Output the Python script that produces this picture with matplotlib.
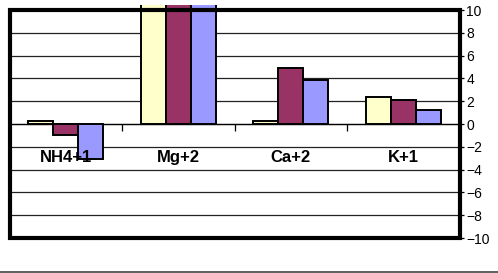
import numpy as np
import matplotlib
matplotlib.use("Agg")
from matplotlib import pyplot
from matplotlib.lines import Line2D
from matplotlib.patches import Rectangle

# ions on the category axis, three series per ion
categories = ["NH4+1", "Mg+2", "Ca+2", "K+1"]
series_a = [0.3, 11.0, 0.3, 2.4]
series_b = [-1.0, 11.0, 4.9, 2.1]
series_c = [-3.1, 11.0, 3.9, 1.2]
yticks = [-10, -8, -6, -4, -2, 0, 2, 4, 6, 8, 10]

colors = ["#FFFFCC", "#993366", "#9999FF"]

pyplot.rcParams["font.family"] = ["Liberation Sans", "DejaVu Sans"]

fig = pyplot.figure(figsize=(4.98, 2.73), dpi=100)
ax = fig.add_axes([9.5 / 498, 35 / 273, 450 / 498, 228 / 273])

# bars may run a little past the top of the frame, then get cut
clip = Rectangle((0, -0.05), 1, 1.072, transform=ax.transAxes,
                 fill=False, edgecolor="none")
ax.add_patch(clip)

x = np.arange(len(categories))
width = 2.0 / 9
for i, vals in enumerate([series_a, series_b, series_c]):
    bars = ax.bar(x + (i - 1) * width, vals, width, color=colors[i],
                  edgecolor="black", linewidth=1.4, zorder=3)
    for b in bars:
        b.set_clip_path(clip)

ax.set_xlim(-0.5, 3.5)
ax.set_ylim(-10, 10)

# gridlines
for y in yticks:
    ax.axhline(y, color="#222222", linewidth=0.9, zorder=1)

# category axis through zero
for s in ["left", "top", "right"]:
    ax.spines[s].set_visible(False)
ax.spines["bottom"].set_position(("data", 0))
ax.spines["bottom"].set_linewidth(0.9)
ax.spines["bottom"].set_zorder(1)
ax.set_xticks(x)
ax.set_xticklabels(categories, fontsize=12, fontweight="bold")
ax.set_xticks([0.5, 1.5, 2.5], minor=True)
ax.tick_params(axis="x", which="major", length=0, pad=19)
ax.tick_params(axis="x", which="minor", length=5, width=0.9, direction="out")
ax.xaxis.set_zorder(5)

ax.yaxis.tick_right()
ax.set_yticks(yticks)
ax.tick_params(axis="y", labelsize=10, length=3, width=0.9, pad=2)

# thick frame
frame = Rectangle((0, 0), 1, 1, transform=ax.transAxes, fill=False,
                  edgecolor="black", linewidth=3, zorder=4, clip_on=False)
ax.add_patch(frame)

# bottom rule of the chart
fig.add_artist(Line2D([0, 1], [1.2 / 273, 1.2 / 273], color="#444444",
                      linewidth=1.2))

fig.savefig("out.png", dpi=100)
